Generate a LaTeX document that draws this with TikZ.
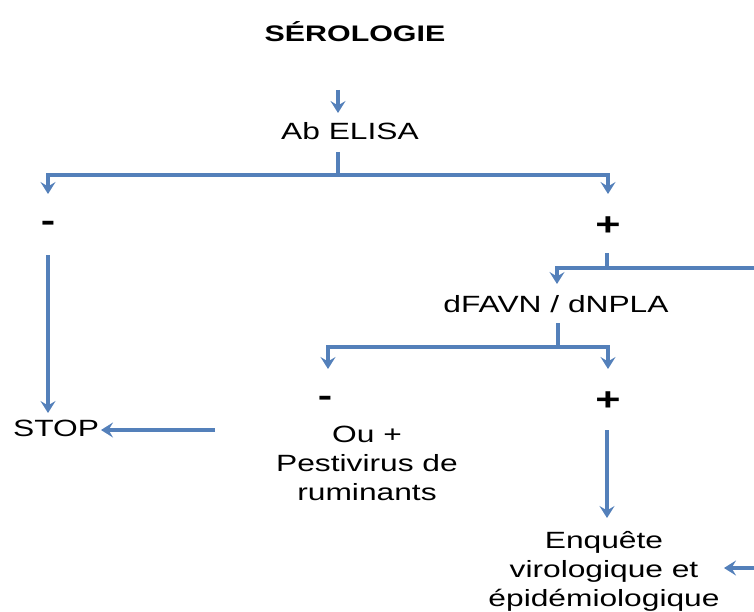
\documentclass[tikz,border=0pt]{standalone}
\usepackage{fontspec}
\setmainfont[FakeStretch=1.35]{Liberation Sans}
\usetikzlibrary{arrows.meta}
\definecolor{lienbleu}{RGB}{84,128,186}
\tikzset{
  lien/.style={draw=lienbleu, line width=3.2pt},
  fleche/.style={lien, -{Stealth[length=12pt,width=15pt,inset=4.5pt]}},
  txt/.style={font=\fontsize{23.5}{29}\selectfont, align=center, inner sep=0pt},
  titre/.style={font=\fontsize{22.5}{27}\selectfont\bfseries, inner sep=0pt},
  signe/.style={font=\fontsize{32}{32}\selectfont\bfseries, inner sep=0pt},
}
\begin{document}
\begin{tikzpicture}[x=1pt,y=-1pt]
  \useasboundingbox (0,0) rectangle (754,612);
  % textes
  \node[titre, anchor=base] (ser) at (355,42) {SÉROLOGIE};
  \node[txt, anchor=base] (elisa) at (350,140) {Ab ELISA};
  \node[signe] (moins1) at (48,226) {-};
  \node[signe] (plus1) at (608,226) {+};
  \node[txt, anchor=base] (stop) at (56,436) {STOP};
  \node[txt, anchor=base] (dfavn) at (556,312) {dFAVN / dNPLA};
  \node[signe] (moins2) at (325,401) {-};
  \node[signe] (plus2) at (608,401) {+};
  \node[txt] (pesti) at (367,463) {Ou +\\Pestivirus de\\ruminants};
  \node[txt] (enq) at (604,571) {Enquête\\virologique et\\épidémiologique};
  % points de raccord
  \coordinate (serB) at (338,90);
  \coordinate (elisaT) at (338,113);
  \coordinate (elisaB) at (338,152);
  \coordinate (j1) at (338,175);
  \coordinate (moins1T) at (48,194);
  \coordinate (plus1T) at (608,194);
  \coordinate (moins1B) at (48,255);
  \coordinate (stopT) at (48,413);
  \coordinate (stopD) at (101,430);
  \coordinate (retour) at (215,430);
  \coordinate (plus1B) at (607,253);
  \coordinate (j2) at (607,268);
  \coordinate (dfavnT) at (557,284);
  \coordinate (coin) at (762,268);
  \coordinate (enqD) at (724,568);
  \coordinate (dfavnB) at (558,323);
  \coordinate (j3) at (558,347);
  \coordinate (moins2T) at (328,369);
  \coordinate (plus2T) at (608,369);
  \coordinate (plus2B) at (607,430);
  \coordinate (enqT) at (607,518);
  % fleches
  \draw[fleche] (serB) -- (elisaT);
  \draw[lien] (elisaB) -- (j1);
  \draw[fleche] (j1) -| (moins1T);
  \draw[fleche] (j1) -| (plus1T);
  \draw[fleche] (moins1B) -- (stopT);
  \draw[fleche] (retour) -- (stopD);
  \draw[lien] (plus1B) -- (j2);
  \draw[fleche] (j2) -| (dfavnT);
  \begin{scope}
    \clip (0,0) rectangle (754,612);
    \draw[fleche] (j2) -- (coin) |- (enqD);
  \end{scope}
  \draw[lien] (dfavnB) -- (j3);
  \draw[fleche] (j3) -| (moins2T);
  \draw[fleche] (j3) -| (plus2T);
  \draw[fleche] (plus2B) -- (enqT);
\end{tikzpicture}
\end{document}
